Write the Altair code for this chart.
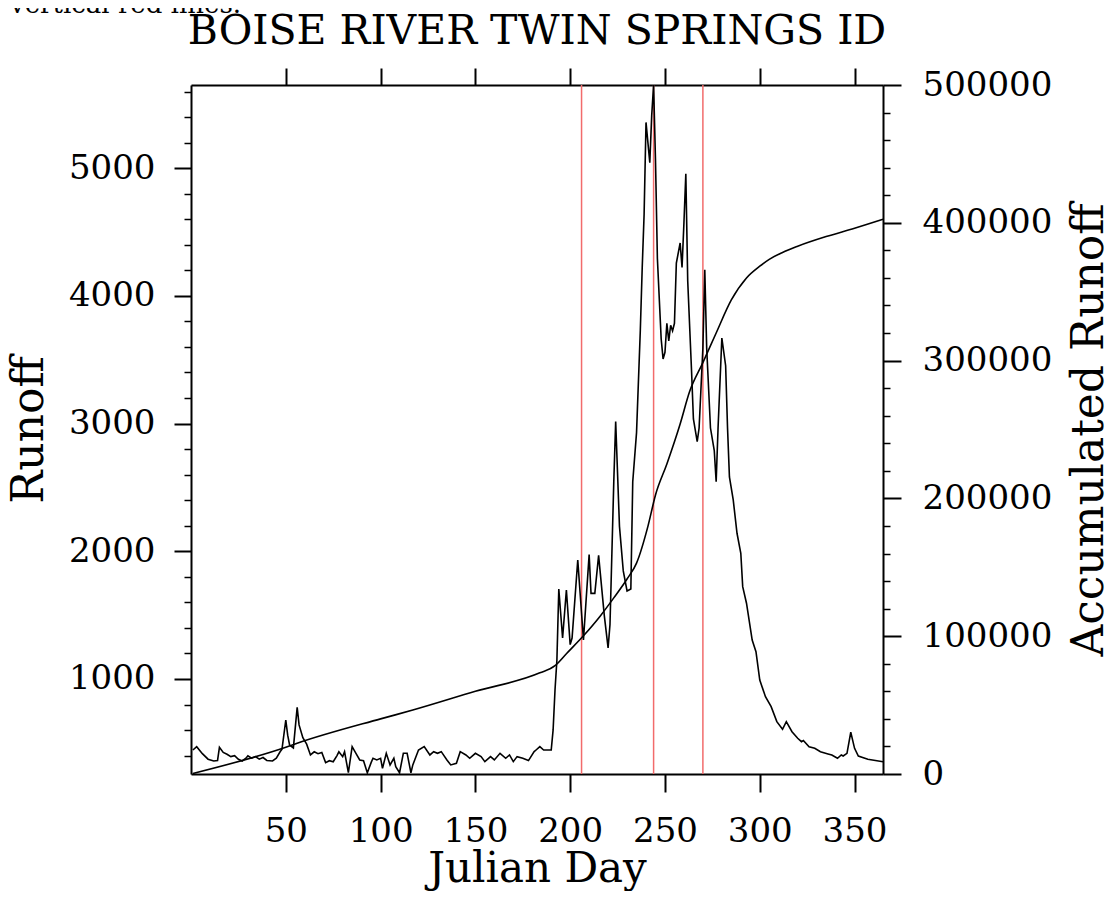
import altair as alt
import pandas as pd

# ---------------- data ----------------
runoff_day = [1, 3, 6, 9, 12, 14, 15, 17, 19, 21, 23, 25, 27, 29, 30, 32, 34, 36, 38, 40,
              43, 45, 47, 48, 50, 51, 52, 54, 56, 57, 59, 61, 63, 65, 67, 69, 71, 73, 75, 77,
              78, 80, 81, 83, 85, 87, 89, 91, 93, 95, 96, 98, 100, 101, 103, 105, 107, 108, 110, 112,
              114, 116, 117, 120, 123, 126, 128, 130, 132, 135, 137, 140, 142, 145, 147, 150, 153, 155, 158, 160,
              163, 166, 168, 170, 172, 175, 178, 181, 182, 184, 186, 190, 191, 192, 193, 194, 196, 198, 200, 201,
              204, 207, 210, 211, 213, 215, 218, 220, 221, 223, 224, 226, 228, 230, 232, 233, 235, 237, 238, 239,
              240, 242, 243, 244, 245, 246, 248, 249, 250, 251, 252, 253, 254, 255, 256, 258, 259, 260, 261, 262,
              264, 265, 267, 268, 270, 271, 272, 274, 276, 277, 278, 280, 282, 283, 284, 286, 288, 290, 291, 293,
              296, 298, 300, 303, 306, 309, 312, 314, 317, 320, 322, 323, 326, 329, 332, 336, 338, 341, 343, 344,
              346, 348, 350, 352, 357, 365]
runoff_val = [444, 470, 415, 372, 358, 362, 465, 425, 411, 392, 400, 371, 358, 380, 398, 380, 392, 372, 385, 362,
              358, 380, 430, 450, 679, 560, 483, 460, 778, 640, 540, 490, 405, 430, 415, 425, 345, 360, 352, 400,
              430, 392, 430, 266, 470, 418, 366, 360, 266, 345, 379, 366, 379, 300, 418, 327, 379, 314, 266, 418,
              418, 266, 327, 444, 470, 405, 431, 418, 431, 366, 327, 340, 431, 405, 379, 418, 392, 353, 392, 366,
              418, 379, 405, 353, 392, 379, 361, 431, 444, 470, 444, 444, 601, 914, 1149, 1705, 1321, 1697, 1269, 1321,
              1932, 1305, 1974, 1670, 1670, 1968, 1496, 1244, 1426, 2544, 3016, 2195, 1846, 1689, 1705, 2544, 2929, 3733, 4222, 4641,
              5358, 5043, 5411, 5651, 5061, 4292, 3662, 3506, 3558, 3785, 3647, 3770, 3725, 3785, 4257, 4414, 4222, 4570, 4956, 4116,
              3420, 3036, 2859, 2965, 3592, 4205, 3592, 2965, 2789, 2544, 2965, 3670, 3453, 2965, 2582, 2402, 2141, 1984, 1723, 1593,
              1305, 1214, 992, 861, 783, 666, 606, 666, 587, 536, 509, 518, 470, 457, 430, 413, 405, 379, 405, 397,
              418, 583, 457, 397, 371, 352]

acc_day = [1, 50, 56, 100, 117, 150, 184, 192, 198, 207, 216, 223, 230, 235, 241, 245, 251, 258, 263, 270,
           277, 285, 293, 300, 305, 312, 320, 335, 350, 365]
acc_val = [400, 19400, 22300, 40000, 46400, 60000, 73400, 78600, 87300, 100300, 114900, 127800, 141500, 153000,
           179700, 202500, 225000, 254000, 277500, 298500, 320000, 344000, 360000, 368500, 373500, 378500, 383000,
           390000, 396000, 402500]

red_days = [206, 244, 270]

x_ticks = [50, 100, 150, 200, 250, 300, 350]
runoff_ticks = [400, 600, 800, 1000, 1200, 1400, 1600, 1800, 2000, 2200, 2400, 2600, 2800, 3000,
                3200, 3400, 3600, 3800, 4000, 4200, 4400, 4600, 4800, 5000, 5200, 5400, 5600]
acc_ticks = [0, 20000, 40000, 60000, 80000, 100000, 120000, 140000, 160000, 180000, 200000,
             220000, 240000, 260000, 280000, 300000, 320000, 340000, 360000, 380000, 400000,
             420000, 440000, 460000, 480000, 500000]

title_text = "BOISE RIVER TWIN SPRINGS ID"
caption_text = "vertical red lines."

# ---------------- chart ----------------
FONT = "DejaVu Serif"
W, H = 692, 689

runoff_df = pd.DataFrame({"day": runoff_day, "runoff": runoff_val})
acc_df = pd.DataFrame({"day": acc_day, "acc": acc_val})
red_df = pd.DataFrame({"day": red_days})
caption_df = pd.DataFrame({"t": [caption_text]})
title_df = pd.DataFrame({"t": [title_text]})

xscale = alt.Scale(domain=[0, 365], nice=False, zero=False)
major_left = "datum.value % 1000 === 0"
major_right = "datum.value % 100000 === 0"

common_axis = dict(
    grid=False, domain=True, domainColor="black", domainWidth=2,
    tickColor="black", labelColor="black", labelFont=FONT, labelFontSize=34,
    labelFlush=False, labelOverlap=False,
    titleFont=FONT, titleFontSize=44, titleFontWeight="normal", titleColor="black",
)

red_rules = alt.Chart(red_df).mark_rule(color="#f26b6b", strokeWidth=1.5).encode(
    x=alt.X("day:Q", scale=xscale, axis=None)
)

runoff_line = alt.Chart(runoff_df).mark_line(color="black", strokeWidth=1.6).encode(
    x=alt.X("day:Q", scale=xscale, axis=alt.Axis(
        orient="bottom", values=x_ticks, format="d", title="Julian Day",
        tickSize=18, tickWidth=2, labelPadding=22,
        titleX=346, titleY=107, titleBaseline="alphabetic", titleAlign="center",
        **{**common_axis, "titleFontSize": 42})),
    y=alt.Y("runoff:Q", scale=alt.Scale(domain=[256, 5651], nice=False, zero=False), axis=alt.Axis(
        orient="left", values=runoff_ticks, title="Runoff",
        tickSize={"condition": {"test": major_left, "value": 17}, "value": 7},
        tickWidth={"condition": {"test": major_left, "value": 2}, "value": 1.5},
        labelExpr=f"{major_left} ? format(datum.value, 'd') : ''",
        labelPadding=19,
        titleAngle=270, titleX=-162, titleY=344.5, titleBaseline="middle", titleAlign="center",
        **common_axis)),
)

acc_line = alt.Chart(acc_df).mark_line(color="black", strokeWidth=1.6, interpolate="monotone").encode(
    x=alt.X("day:Q", scale=xscale, axis=alt.Axis(
        orient="top", values=x_ticks, labels=False, title=None,
        tickSize=17, tickWidth=2, **common_axis)),
    y=alt.Y("acc:Q", scale=alt.Scale(domain=[0, 500000], nice=False, zero=False), axis=alt.Axis(
        orient="right", values=acc_ticks, title="Accumulated Runoff",
        tickSize={"condition": {"test": major_right, "value": 18}, "value": 7},
        tickWidth={"condition": {"test": major_right, "value": 2}, "value": 1.5},
        labelExpr=f"{major_right} ? format(datum.value, 'd') : ''",
        labelPadding=21,
        titleAngle=270, titleX=206, titleY=344.5, titleBaseline="middle", titleAlign="center",
        **common_axis)),
)

caption = alt.Chart(caption_df).mark_text(
    font=FONT, fontSize=26, color="black", align="left", baseline="alphabetic"
).encode(x=alt.value(-181), y=alt.value(-72), text="t:N")

title = alt.Chart(title_df).mark_text(
    font=FONT, fontSize=41, color="black", align="center", baseline="alphabetic"
).encode(x=alt.value(W / 2), y=alt.value(-41), text="t:N")

chart = alt.layer(red_rules, runoff_line, acc_line, caption, title).resolve_scale(
    y="independent"
).resolve_axis(
    x="independent", y="independent"
).properties(
    width=W, height=H,
    autosize=alt.AutoSizeParams(type="none"),
    padding={"left": 183, "top": 77, "right": 222, "bottom": 117},
).configure_view(stroke=None).configure(background="white")

chart.save("out.html", embed_options={"renderer": "svg", "actions": False})
